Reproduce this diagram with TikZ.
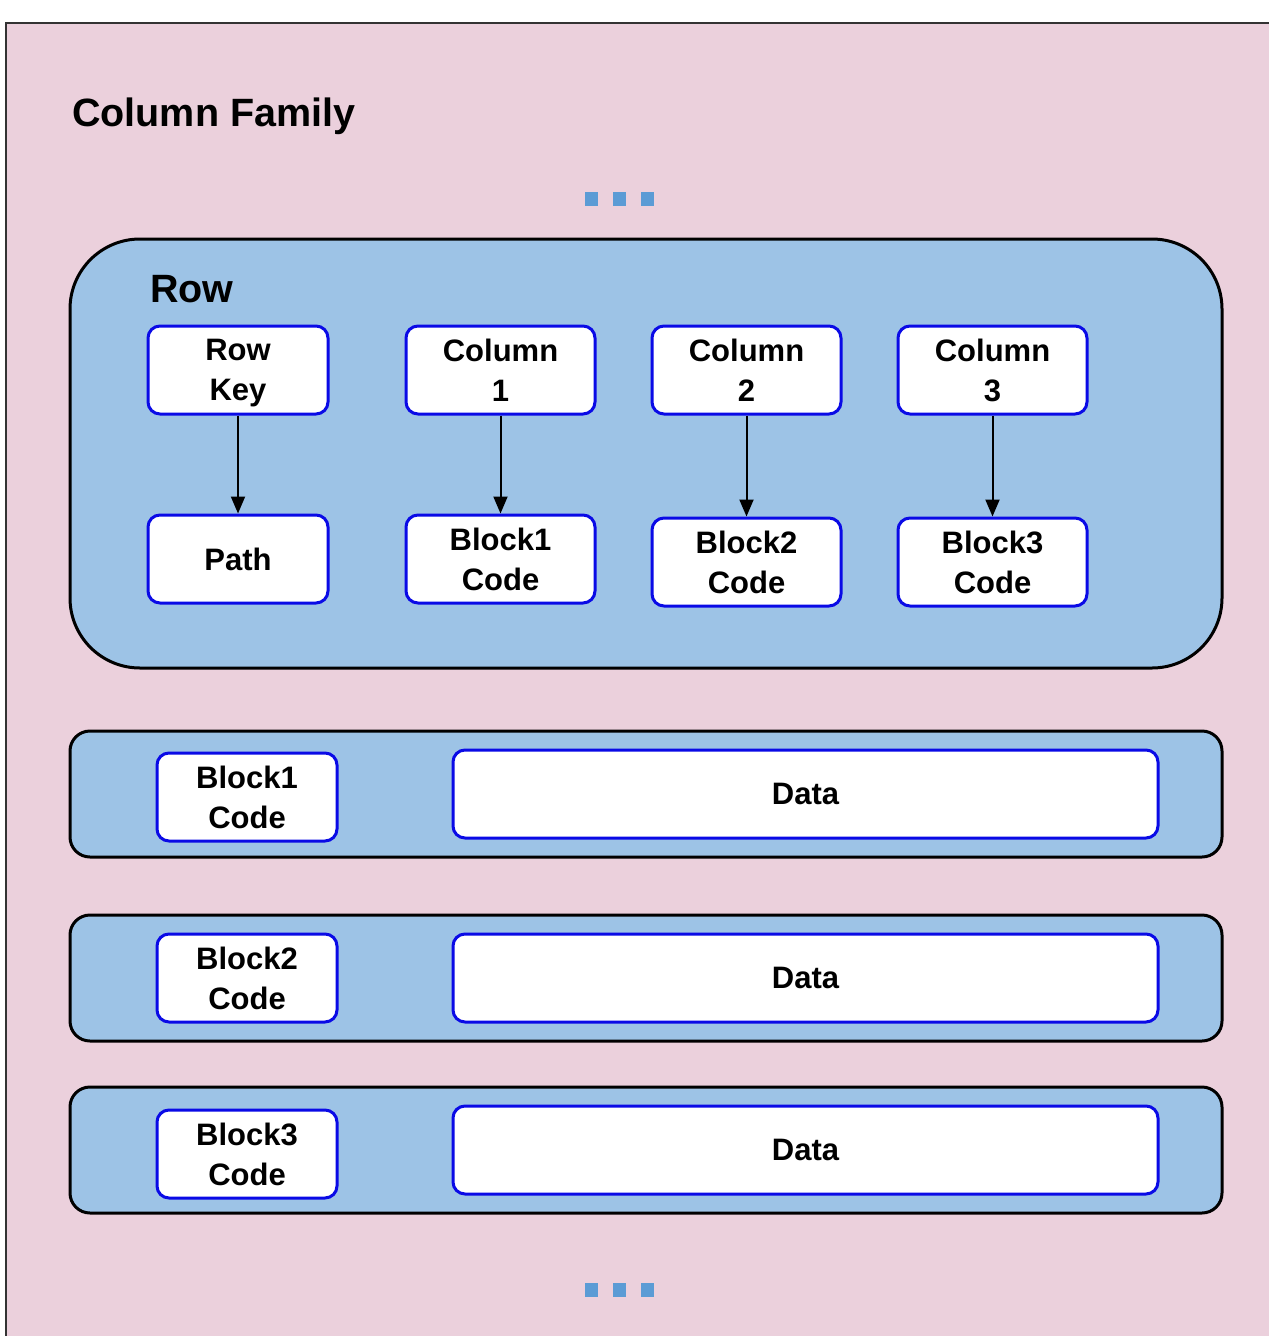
\documentclass[tikz,border=0pt]{standalone}
\usepackage{fontspec}
\setmainfont{Liberation Sans}
\usetikzlibrary{arrows.meta}
\definecolor{familypink}{HTML}{EBD0DC}
\definecolor{rowblue}{HTML}{9DC3E6}
\definecolor{cellborder}{HTML}{0A0AE6}
\definecolor{dotblue}{HTML}{5B9BD5}
\tikzset{
  cell/.style={draw=cellborder, line width=3pt, fill=white, rounded corners=12pt,
    align=center, inner sep=0pt, font=\fontsize{31}{40}\selectfont\bfseries},
  band/.style={draw=black, line width=3pt, fill=rowblue},
  link/.style={draw=black, line width=2pt, -{Triangle[length=17pt,width=14pt]}},
  dot/.style={fill=dotblue},
  title/.style={anchor=base west, inner sep=0pt, font=\fontsize{39.5}{44}\selectfont\bfseries}
}
\begin{document}
\begin{tikzpicture}[x=1pt, y=-1pt]
\useasboundingbox (0,0) rectangle (1269,1336);
% column family frame
\draw[fill=familypink, line width=1.5pt, draw=black!80] (6,23) rectangle (1280,1350);
\node[title] (cf) at (72,126) {Column Family};
% ellipsis marks
\foreach \x in {585,613,641} {
  \fill[dot] (\x,192) rectangle ++(13,14);
  \fill[dot] (\x,1283) rectangle ++(13,14);
}
% the row
\draw[band, rounded corners=70pt] (70,239) rectangle (1222,668);
\node[title] (row) at (150,302) {Row};
\node[cell, minimum width=180pt, minimum height=88pt] (rk) at (238,370) {Row\\Ke\smash{y}};
\node[cell, minimum width=189pt, minimum height=88pt] (c1) at (500.5,370) {Column\\1};
\node[cell, minimum width=189pt, minimum height=88pt] (c2) at (746.5,370) {Column\\2};
\node[cell, minimum width=189pt, minimum height=88pt] (c3) at (992.5,370) {Column\\3};
\node[cell, minimum width=180pt, minimum height=88pt] (path) at (238,559) {Path};
\node[cell, minimum width=189pt, minimum height=88pt] (b1) at (500.5,559) {Block1\\Code};
\node[cell, minimum width=189pt, minimum height=88pt] (b2) at (746.5,562) {Block2\\Code};
\node[cell, minimum width=189pt, minimum height=88pt] (b3) at (992.5,562) {Block3\\Code};
\draw[link] (rk) -- (path);
\draw[link] (c1) -- (b1);
\draw[link] (c2) -- (b2);
\draw[link] (c3) -- (b3);
% block data rows
\draw[band, rounded corners=20pt] (70,731) rectangle (1222,857);
\node[cell, minimum width=180pt, minimum height=88pt] (d1k) at (247,797) {Block1\\Code};
\node[cell, minimum width=705pt, minimum height=88pt] (d1v) at (805.5,794) {Data};
\draw[band, rounded corners=20pt] (70,915) rectangle (1222,1041);
\node[cell, minimum width=180pt, minimum height=88pt] (d2k) at (247,978) {Block2\\Code};
\node[cell, minimum width=705pt, minimum height=88pt] (d2v) at (805.5,978) {Data};
\draw[band, rounded corners=20pt] (70,1087) rectangle (1222,1213);
\node[cell, minimum width=180pt, minimum height=88pt] (d3k) at (247,1154) {Block3\\Code};
\node[cell, minimum width=705pt, minimum height=88pt] (d3v) at (805.5,1150) {Data};
\end{tikzpicture}
\end{document}
